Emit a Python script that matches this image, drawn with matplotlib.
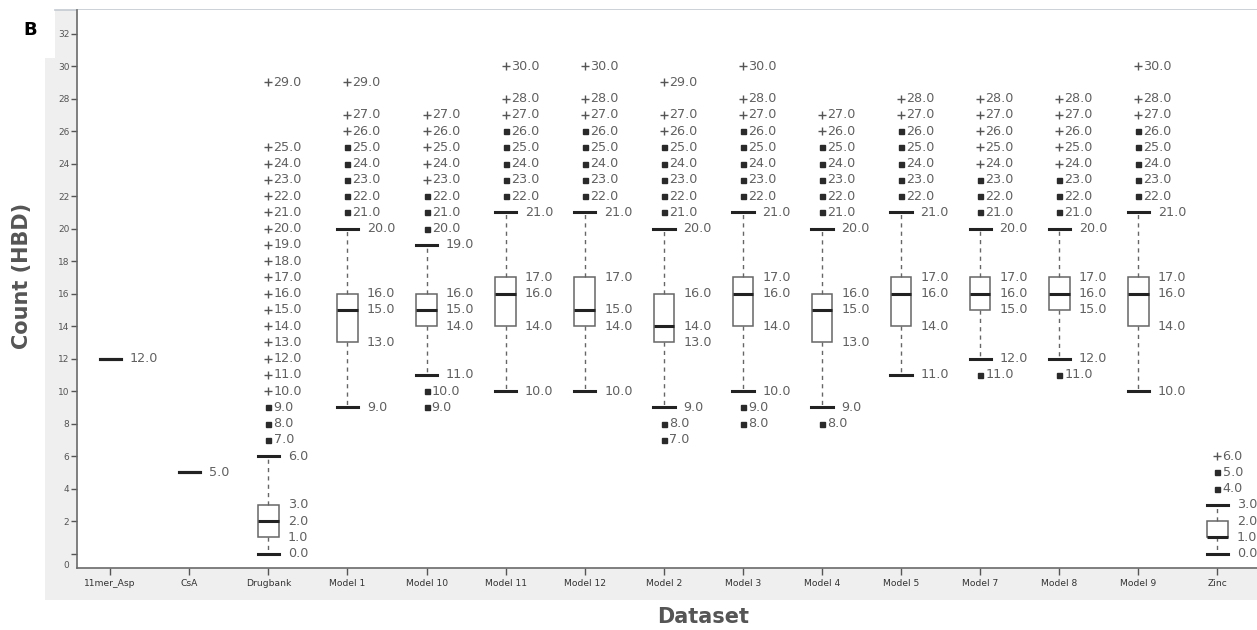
import matplotlib
matplotlib.use("Agg")
import matplotlib.pyplot as plt
from matplotlib.patches import Rectangle
from matplotlib.lines import Line2D

# Hydrogen-bond donor counts per dataset (box-plot summary statistics)
categories = ["11mer_Asp", "CsA", "Drugbank", "Model 1", "Model 10", "Model 11",
              "Model 12", "Model 2", "Model 3", "Model 4", "Model 5", "Model 7",
              "Model 8", "Model 9", "Zinc"]
q1 = [12, 5, 1, 13, 14, 14, 14, 13, 14, 13, 14, 15, 15, 14, 1]
median = [12, 5, 2, 15, 15, 16, 15, 14, 16, 15, 16, 16, 16, 16, 1]
q3 = [12, 5, 3, 16, 16, 17, 17, 16, 17, 16, 17, 17, 17, 17, 2]
whisker_low = [12, 5, 0, 9, 11, 10, 10, 9, 10, 9, 11, 12, 12, 10, 0]
whisker_high = [12, 5, 6, 20, 19, 21, 21, 20, 21, 20, 21, 20, 20, 21, 3]
outliers = [
    [], [],
    [7, 8, 9],
    [21, 22, 23, 24, 25],
    [9, 10, 20, 21, 22],
    [22, 23, 24, 25, 26],
    [22, 23, 24, 25, 26],
    [7, 8, 21, 22, 23, 24, 25],
    [8, 9, 22, 23, 24, 25, 26],
    [8, 21, 22, 23, 24, 25],
    [22, 23, 24, 25, 26],
    [11, 21, 22, 23],
    [11, 21, 22, 23],
    [22, 23, 24, 25, 26],
    [4, 5],
]
extremes = [
    [], [],
    [10, 11, 12, 13, 14, 15, 16, 17, 18, 19, 20, 21, 22, 23, 24, 25, 29],
    [26, 27, 29],
    [23, 24, 25, 26, 27],
    [27, 28, 30],
    [27, 28, 30],
    [26, 27, 29],
    [27, 28, 30],
    [26, 27],
    [27, 28],
    [24, 25, 26, 27, 28],
    [24, 25, 26, 27, 28],
    [27, 28, 30],
    [6],
]
y_ticks = [0, 2, 4, 6, 8, 10, 12, 14, 16, 18, 20, 22, 24, 26, 28, 30, 32]

W, H = 1257, 630
fig = plt.figure(figsize=(W / 100, H / 100), dpi=100)
fig.patch.set_facecolor("white")

def fx(px):
    return px / W

def fy(py):
    return 1 - py / H

# light grey panel behind the plot
fig.patches.append(Rectangle((fx(55), fy(600)), fx(W - 55), fy(10) - fy(600),
                             transform=fig.transFigure, facecolor="#efefef",
                             edgecolor="none", zorder=0))
fig.patches.append(Rectangle((fx(45), fy(600)), fx(10), fy(58) - fy(600),
                             transform=fig.transFigure, facecolor="#efefef",
                             edgecolor="none", zorder=0))
fig.lines.append(Line2D([fx(55), 1], [fy(10), fy(10)], transform=fig.transFigure,
                        color="#c4c9d2", lw=1.2, zorder=1))

ax = fig.add_axes([fx(77), fy(568), 1 - fx(77), fy(10) - fy(568)])
ax.set_facecolor("white")
ax.set_zorder(2)

stats = []
for i in range(len(categories)):
    stats.append(dict(label=categories[i], med=median[i], q1=q1[i], q3=q3[i],
                      whislo=whisker_low[i], whishi=whisker_high[i], fliers=[]))

pos = list(range(len(categories)))
ax.bxp(stats, positions=pos, widths=0.26, capwidths=0.27, showfliers=False,
       patch_artist=True,
       boxprops=dict(facecolor="white", edgecolor="#666666", linewidth=1.1),
       medianprops=dict(color="#222222", linewidth=2.2),
       whiskerprops=dict(color="#666666", linewidth=1.0, linestyle=(0, (3, 3))),
       capprops=dict(color="#222222", linewidth=2.2))

txt_color = "#606060"
fs = 9.2
for i in range(len(categories)):
    # labels for box and whisker values
    vals = sorted(set([whisker_low[i], q1[i], median[i], q3[i], whisker_high[i]]))
    for v in vals:
        ax.text(i + 0.245, v, f"{v:.1f}", fontsize=fs, color=txt_color,
                va="center", ha="left")
    if outliers[i]:
        ax.plot([i] * len(outliers[i]), outliers[i], ls="none", marker="s",
                ms=3.6, color="#2a2a2a", mec="#2a2a2a")
        for v in outliers[i]:
            ax.text(i + 0.065, v, f"{v:.1f}", fontsize=fs, color=txt_color,
                    va="center", ha="left")
    if extremes[i]:
        ax.plot([i] * len(extremes[i]), extremes[i], ls="none", marker="+",
                ms=5.5, mew=1.0, color="#555555")
        for v in extremes[i]:
            ax.text(i + 0.065, v, f"{v:.1f}", fontsize=fs, color=txt_color,
                    va="center", ha="left")

ax.set_xlim(-0.42, 14.5)
ax.set_ylim(-0.89, 33.45)
ax.set_xticks(pos)
ax.set_xticklabels(categories, fontsize=6.6, color="#333333")
ax.set_yticks(y_ticks)
ax.set_yticklabels([""] + [str(t) for t in y_ticks[1:]], fontsize=6.5,
                   color="#555555")
ax.text(-0.52, -0.75, "0", fontsize=6.5, color="#555555", ha="right",
        va="center")
ax.tick_params(axis="x", length=5, width=1, color="#555555", pad=3)
ax.tick_params(axis="y", length=4, width=1, color="#555555", pad=1.5)
for s in ["top", "right"]:
    ax.spines[s].set_visible(False)
for s in ["left", "bottom"]:
    ax.spines[s].set_color("#6a6a6a")
    ax.spines[s].set_linewidth(1.2)

fig.text(fx(22), fy(276), "Count (HBD)", rotation=90, fontsize=15,
         fontweight="bold", color="#555555", ha="center", va="center")
fig.text(fx(703), fy(617), "Dataset", fontsize=15, fontweight="bold",
         color="#555555", ha="center", va="center")
fig.text(fx(30), fy(30), "B", fontsize=13, fontweight="bold", color="black",
         ha="center", va="center")

fig.savefig("out.png", dpi=100)
